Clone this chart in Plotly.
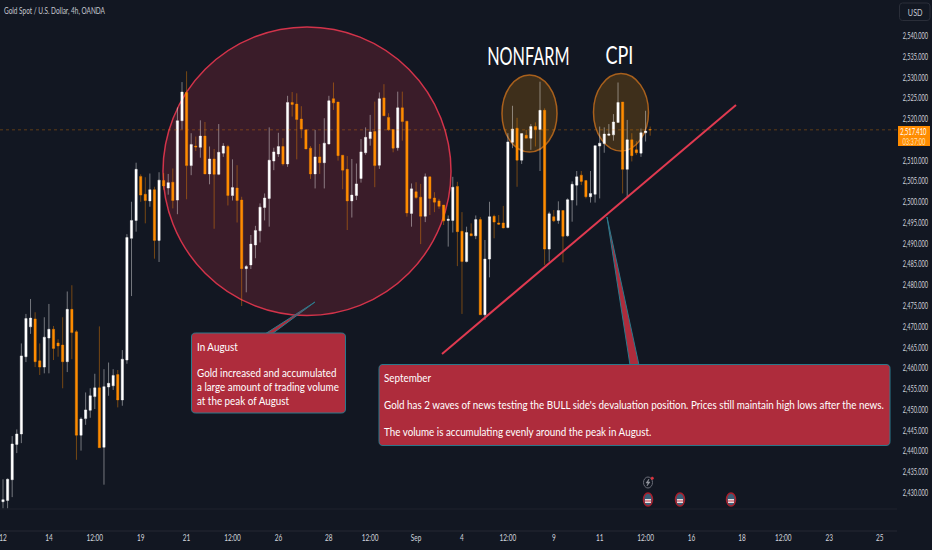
import json
import plotly.graph_objects as go

opens = [2427.9,2428.2,2433.2,2441.7,2444.2,2462.8,2470.0,2471.9,2461.8,2460.3,
2467.3,2469.4,2466.1,2465.6,2461.6,2474.2,2468.8,2443.9,2447.9,2449.9,
2453.2,2455.3,2441.0,2455.5,2455.8,2458.5,2452.4,2462.0,2491.3,2495.6,
2506.2,2501.9,2500.3,2503.0,2490.8,2505.2,2503.4,2504.8,2500.5,2519.6,
2526.4,2508.8,2513.5,2513.2,2515.9,2506.8,2510.4,2506.7,2511.8,2513.4,
2501.6,2503.4,2500.5,2484.0,2484.9,2489.7,2493.1,2498.7,2500.9,2509.9,
2511.6,2513.4,2509.2,2524.0,2523.6,2520.0,2517.4,2513.0,2506.8,2510.9,
2509.5,2514.0,2524.9,2524.1,2511.3,2507.9,2500.3,2501.6,2505.7,2511.9,
2515.3,2517.0,2508.9,2525.1,2520.4,2517.5,2513.1,2522.7,2519.5,2497.3,
2502.5,2501.2,2496.6,2506.1,2501.0,2500.3,2499.3,2495.6,2495.6,2503.8,
2493.0,2485.7,2492.4,2491.9,2495.8,2472.9,2486.3,2496.6,2495.0,2495.0,
2493.9,2514.4,2517.8,2510.1,2516.1,2515.4,2518.2,2517.5,2522.1,2488.7,
2496.5,2495.6,2498.0,2491.9,2500.5,2504.1,2506.5,2505.2,2501.3,2501.9,
2513.5,2514.1,2516.1,2516.2,2519.2,2524.1,2507.9,2515.0,2512.6,2511.8,
2516.7,2517.5]
closes = [2428.4,2433.3,2441.8,2444.2,2463.0,2472.0,2472.1,2461.6,2460.3,2467.5,
2469.4,2464.8,2465.4,2461.6,2474.2,2468.6,2443.9,2447.8,2450.0,2453.4,
2455.3,2440.9,2455.6,2456.4,2458.3,2452.4,2462.2,2491.5,2495.6,2507.9,
2501.7,2500.4,2503.0,2490.8,2505.3,2503.9,2504.7,2500.4,2519.6,2526.5,
2508.8,2513.9,2513.3,2515.9,2506.8,2510.4,2506.7,2512.0,2513.5,2501.6,
2503.5,2500.4,2484.0,2484.5,2489.9,2493.2,2498.8,2501.0,2510.1,2512.1,
2513.4,2509.2,2524.0,2523.5,2519.9,2517.6,2512.8,2506.8,2510.9,2509.5,
2514.2,2524.4,2523.9,2511.2,2507.7,2500.3,2501.7,2504.4,2512.1,2515.6,
2516.9,2508.8,2524.9,2520.8,2517.4,2513.0,2522.7,2519.4,2497.4,2503.2,
2501.1,2496.6,2506.1,2500.9,2500.0,2499.0,2495.5,2495.9,2503.6,2492.9,
2485.7,2492.7,2491.9,2495.8,2472.9,2486.3,2496.5,2495.2,2494.7,2493.8,
2514.5,2517.6,2510.1,2516.5,2515.4,2518.2,2517.5,2522.1,2488.7,2497.2,
2495.5,2498.0,2491.8,2500.6,2504.3,2506.1,2505.0,2501.3,2502.1,2513.6,
2514.2,2516.4,2516.4,2519.3,2524.0,2507.9,2515.0,2511.2,2511.9,2516.7,
2517.1,2517.41]
highs = [2433.3,2433.5,2443.7,2445.3,2466.0,2473.1,2476.7,2473.5,2466.0,2472.3,
2475.5,2470.2,2467.0,2472.3,2478.5,2480.0,2469.2,2448.2,2454.2,2455.2,
2458.7,2470.1,2459.8,2461.4,2459.8,2459.6,2464.4,2492.3,2500.1,2509.5,
2506.7,2506.0,2506.9,2503.7,2507.2,2507.0,2506.8,2508.1,2522.8,2528.9,
2531.5,2516.6,2515.8,2519.7,2519.3,2513.4,2512.8,2518.8,2514.2,2513.8,
2510.3,2508.9,2501.3,2484.9,2492.1,2494.3,2499.7,2502.1,2518.0,2513.1,
2516.7,2515.4,2525.6,2526.5,2526.2,2523.1,2517.4,2513.5,2517.4,2514.0,
2520.2,2525.6,2528.8,2524.1,2511.3,2511.1,2510.4,2509.3,2515.2,2518.0,
2521.0,2524.2,2526.4,2528.4,2521.4,2517.5,2526.6,2526.6,2519.5,2504.5,
2504.8,2504.4,2506.9,2506.1,2502.4,2500.8,2499.3,2496.8,2506.1,2504.9,
2497.6,2494.1,2494.9,2496.8,2496.4,2490.9,2500.1,2497.0,2496.9,2499.1,
2516.6,2523.2,2520.3,2516.5,2517.4,2518.8,2519.2,2529.0,2522.6,2497.7,
2498.1,2500.2,2498.0,2500.9,2505.0,2507.5,2507.5,2505.2,2507.5,2513.6,
2518.2,2518.0,2518.8,2521.2,2528.8,2524.1,2519.8,2516.6,2514.7,2517.7,
2522.0,2518.2]
lows = [2426.3,2426.3,2429.0,2439.6,2442.0,2461.5,2468.3,2460.3,2458.4,2458.8,
2458.8,2462.0,2462.8,2455.2,2459.1,2462.2,2438.0,2440.2,2446.4,2448.1,
2450.2,2440.9,2432.0,2453.4,2454.8,2450.6,2451.0,2461.1,2477.4,2492.9,
2500.1,2494.9,2498.9,2486.4,2485.6,2503.0,2501.8,2498.5,2497.1,2517.5,
2500.7,2506.5,2512.3,2510.7,2506.8,2504.3,2493.6,2506.5,2510.9,2499.2,
2500.4,2495.1,2475.0,2478.3,2483.9,2486.5,2490.3,2495.6,2494.1,2507.7,
2510.9,2508.8,2508.5,2520.6,2510.3,2515.4,2512.8,2505.6,2503.3,2506.8,
2503.3,2513.9,2522.2,2510.0,2503.1,2493.3,2496.3,2500.5,2504.7,2511.4,
2513.6,2503.6,2508.0,2520.8,2517.2,2512.0,2512.4,2514.8,2496.5,2494.1,
2500.8,2489.9,2495.2,2496.9,2497.6,2498.4,2494.5,2489.3,2492.7,2484.6,
2473.1,2485.5,2491.9,2491.1,2472.9,2471.7,2481.9,2491.3,2494.5,2493.7,
2493.7,2513.0,2503.7,2509.2,2515.4,2512.6,2513.4,2507.5,2484.9,2485.7,
2495.2,2494.8,2485.5,2491.7,2495.3,2499.2,2504.1,2500.9,2499.9,2499.9,
2500.9,2511.9,2515.9,2514.8,2519.2,2502.1,2501.2,2509.8,2511.4,2510.9,
2514.6,2516.0]

tick_pos = [0,10,20,30,40,50,60,71,80,90,100,110,120,130,140,150,161,170,180,191]
tick_text = ["12","14","12:00","19","21","12:00","26","28","12:00","Sep","4","12:00","9","11","12:00","16","18","12:00","23","25"]
price_ticks = [p for p in [2430+5*k for k in range(23)] if p != 2515]
last_price = 2517.41

BG = "#121722"
W, H = 932, 550
PL, PR, PB = 897, 35, 19
PH = H - PB
FONT = "Lato, sans-serif"

def X(p): return p / PL
def Y(p): return 1 - p / PH

def ell(x0, y0, x1, y1, line, fill, w=1.5):
    return dict(type="circle", xref="paper", yref="paper", x0=X(x0), x1=X(x1), y0=Y(y0), y1=Y(y1),
                line=dict(color=line, width=w), fillcolor=fill, layer="below")

def poly(pts, line, fill, w=1):
    d = "M" + " L".join(f"{X(a):.5f},{Y(b):.5f}" for a, b in pts) + " Z"
    return dict(type="path", xref="paper", yref="paper", path=d, line=dict(color=line, width=w), fillcolor=fill)

def rrect(x0, y0, x1, y1, r, line, fill, w=1):
    d = (f"M{X(x0+r):.5f},{Y(y0):.5f} L{X(x1-r):.5f},{Y(y0):.5f} Q{X(x1):.5f},{Y(y0):.5f} {X(x1):.5f},{Y(y0+r):.5f} "
         f"L{X(x1):.5f},{Y(y1-r):.5f} Q{X(x1):.5f},{Y(y1):.5f} {X(x1-r):.5f},{Y(y1):.5f} "
         f"L{X(x0+r):.5f},{Y(y1):.5f} Q{X(x0):.5f},{Y(y1):.5f} {X(x0):.5f},{Y(y1-r):.5f} "
         f"L{X(x0):.5f},{Y(y0+r):.5f} Q{X(x0):.5f},{Y(y0):.5f} {X(x0+r):.5f},{Y(y0):.5f} Z")
    return dict(type="path", xref="paper", yref="paper", path=d, line=dict(color=line, width=w), fillcolor=fill)

scales = []
def txt(x, y, s, size=12, color="#ffffff", anchor="left", sx=0.82):
    scales.append([sx, anchor])
    return dict(xref="paper", yref="paper", x=X(x), y=Y(y), text=s, showarrow=False, xanchor=anchor,
                yanchor="middle", font=dict(family=FONT, size=size, color=color), align="left", borderpad=0, borderwidth=0)

RED = "#ae2c3c"; TEAL = "#2b7a8c"; LINE_RED = "#e03a50"
shapes = [
    ell(163, 27, 451, 315.5, "#d2334a", "rgba(220,50,70,0.2)"),
    ell(502, 75, 557, 152, "#a8601c", "rgba(255,152,0,0.19)"),
    ell(593.5, 73.5, 648.5, 151, "#a8601c", "rgba(255,152,0,0.19)"),
    dict(type="line", xref="paper", yref="y", x0=0, x1=1, y0=last_price, y1=last_price,
         line=dict(color="rgba(255,140,0,0.32)", width=1, dash="dot")),
    dict(type="line", xref="paper", yref="paper", x0=0, x1=1, y0=Y(509), y1=Y(509), line=dict(color="#1e222d", width=1)),
    dict(type="line", xref="paper", yref="paper", x0=0, x1=1, y0=Y(531), y1=Y(531), line=dict(color="#242833", width=1)),
    dict(type="line", xref="paper", yref="paper", x0=X(442), x1=X(736), y0=Y(354), y1=Y(105),
         line=dict(color=LINE_RED, width=2)),
    poly([(265, 334), (272, 334), (315, 302)], TEAL, RED),
    poly([(630, 365), (639, 365), (607, 217)], TEAL, RED),
    rrect(191.5, 333, 345.5, 413, 4, TEAL, RED),
    rrect(379, 364.5, 890, 445.5, 4, TEAL, RED),
    dict(type="rect", xref="paper", yref="paper", x0=X(898), x1=X(930), y0=Y(126), y1=Y(146),
         fillcolor="#ff8c00", line=dict(width=0)),
    rrect(899.5, 3, 930, 20.5, 3, "#2a2e39", BG),
    ell(643.5, 477, 652.5, 488, "#6a6d78", BG, 1),
    poly([(649, 479), (646, 483), (648, 483), (647, 486), (650, 482), (648, 482)], "#9598a1", "#9598a1", 0.5),
    ell(651, 477, 653.5, 479.5, "#e0343f", "#e0343f", 0.5),
]
for cx in (648, 680, 731):
    shapes.append(ell(cx-4.5, 493, cx+4.5, 506, "#a81f2c", "#3a5f78", 1.5))
    shapes.append(dict(type="rect", xref="paper", yref="paper", x0=X(cx-3), x1=X(cx+3), y0=Y(499), y1=Y(503),
                       fillcolor="#e8dfe0", line=dict(width=0)))
    shapes.append(dict(type="rect", xref="paper", yref="paper", x0=X(cx-3), x1=X(cx+3), y0=Y(500.5), y1=Y(501.5),
                       fillcolor="#d04050", line=dict(width=0)))

annotations = [
    txt(4, 11, "Gold Spot / U.S. Dollar, 4h, OANDA", 9.5, "#c5c8d0", sx=0.68),
    txt(528, 55, "NONFARM", 25, "#ffffff", "center", sx=0.65),
    txt(619.5, 54, "CPI", 25, "#ffffff", "center", sx=0.72),
    txt(197, 346, "In August"),
    txt(197, 372.5, "Gold increased and accumulated"),
    txt(197, 386, "a large amount of trading volume"),
    txt(197, 400, "at the peak of August"),
    txt(383.5, 377.5, "September"),
    txt(383.5, 404.5, "Gold has 2 waves of news testing the BULL side's devaluation position. Prices still maintain high lows after the news."),
    txt(383.5, 431.5, "The volume is accumulating evenly around the peak in August."),
    txt(914, 131, "2,517.410", 9, "#ffffff", "center", sx=0.64),
    txt(914, 141, "03:37:00", 9, "#ffe0b8", "center", sx=0.64),
    txt(915, 12, "USD", 9, "#c5c8d0", "center", sx=0.8),
]

fig = go.Figure(go.Candlestick(
    x=list(range(len(opens))), open=opens, high=highs, low=lows, close=closes, whiskerwidth=0,
    increasing=dict(line=dict(color="rgba(255,255,255,0.42)", width=1), fillcolor="#ffffff"),
    decreasing=dict(line=dict(color="rgba(255,140,0,0.42)", width=1), fillcolor="#ff8c00"),
    hoverinfo="skip",
))
fig.update_layout(
    width=W, height=H, autosize=False, margin=dict(l=0, r=PR, t=0, b=PB, autoexpand=False),
    paper_bgcolor=BG, plot_bgcolor=BG, showlegend=False, hovermode=False,
    shapes=shapes, annotations=annotations,
    xaxis=dict(range=[-0.654, 194.78], rangeslider=dict(visible=False), showgrid=False, zeroline=False,
               automargin=False, ticklabeloverflow="allow",
               tickmode="array", tickvals=tick_pos, ticktext=tick_text, ticks="", showline=False,
               tickfont=dict(family=FONT, size=9, color="#d1d4dc")),
    yaxis=dict(range=[2420.85, 2548.66], side="right", showgrid=False, zeroline=False, showline=False,
               automargin=False, ticklabeloverflow="allow",
               tickmode="array", tickvals=price_ticks, tickformat=",.3f", ticks="outside", ticklen=3,
               tickcolor=BG, tickfont=dict(family=FONT, size=8.5, color="#d1d4dc")),
)

post = """
document.documentElement.style.margin='0';
document.body.style.margin='0';
document.body.style.overflow='hidden';
var S=%s;
function squeeze(t,sx,anchor){
  var b=t.getBBox();
  var o= anchor==='left'? b.x : (anchor==='right'? b.x+b.width : b.x+b.width/2);
  var cur=t.getAttribute('transform')||'';
  t.setAttribute('transform',cur+' translate('+o+',0) scale('+sx+',1) translate('+(-o)+',0)');
}
document.querySelectorAll('.annotation').forEach(function(a,i){
  var t=a.querySelector('text'); if(t&&S[i]) squeeze(t,S[i][0],S[i][1]);
});
document.querySelectorAll('.xtick text').forEach(function(t){squeeze(t,0.72,'center');});
document.querySelectorAll('.ytick text').forEach(function(t){squeeze(t,0.66,'left');});
""" % json.dumps(scales)

fig.write_html("out.html", config=dict(displayModeBar=False), post_script=post)
